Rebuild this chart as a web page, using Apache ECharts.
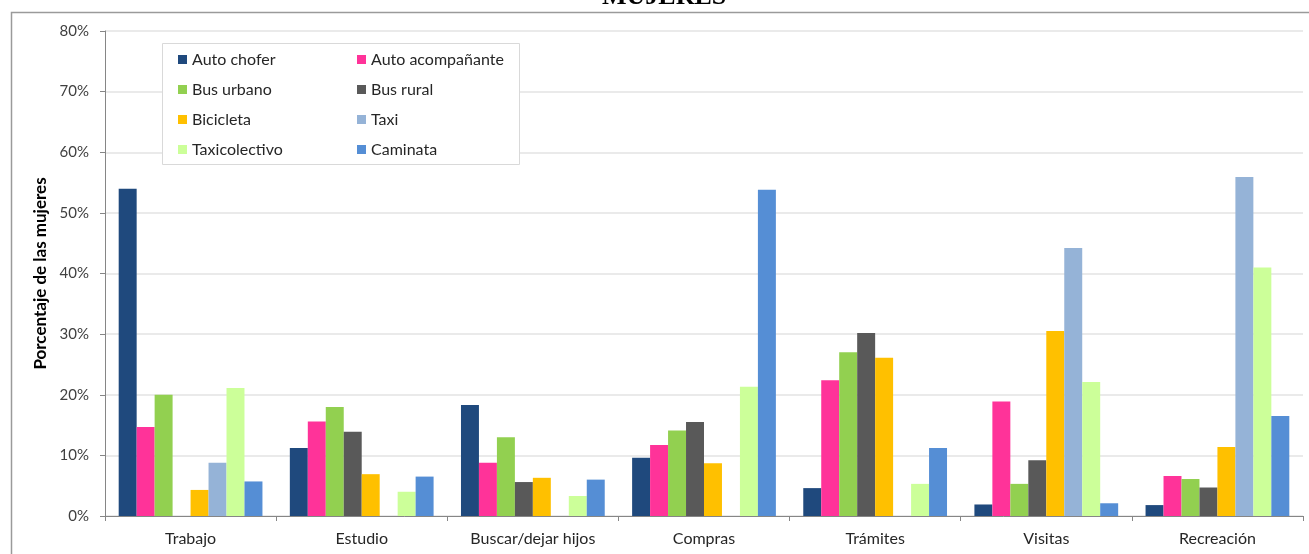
<!DOCTYPE html>
<html>
<head>
<meta charset="utf-8">
<script src="https://cdn.jsdelivr.net/npm/echarts@6/dist/echarts.min.js"></script>
<style>
html,body{margin:0;padding:0;background:#fff;}
#chart{width:1309px;height:554px;}
</style>
</head>
<body>
<div id="chart"></div>
<script>
const categories = ['Trabajo','Estudio','Buscar/dejar hijos','Compras','Trámites','Visitas','Recreación'];
const seriesNames = ['Auto chofer','Auto acompañante','Bus urbano','Bus rural','Bicicleta','Taxi','Taxicolectivo','Caminata'];
const autoChofer     = [54.0, 11.2, 18.3,  9.6,  4.6,  1.9,  1.8];
const autoAcomp      = [14.7, 15.6,  8.8, 11.7, 22.4, 18.9,  6.6];
const busUrbano      = [20.0, 18.0, 13.0, 14.1, 27.0,  5.3,  6.1];
const busRural       = [ 0.0, 13.9,  5.6, 15.5, 30.2,  9.2,  4.7];
const bicicleta      = [ 4.3,  6.9,  6.3,  8.7, 26.1, 30.5, 11.4];
const taxi           = [ 8.8,  0.0,  0.0,  0.0,  0.0, 44.2, 55.9];
const taxicolectivo  = [21.1,  4.0,  3.3, 21.3,  5.3, 22.1, 41.0];
const caminata       = [ 5.7,  6.5,  6.0, 53.8, 11.2,  2.1, 16.5];
const yTicks = [0,10,20,30,40,50,60,70,80];

const seriesData = [autoChofer, autoAcomp, busUrbano, busRural, bicicleta, taxi, taxicolectivo, caminata];
const colors = ['#1F497D','#FF3399','#92D050','#595959','#FFC000','#95B3D7','#CCFF99','#558ED5'];
const FONT = 'Lato, "Open Sans", sans-serif';

const chart = echarts.init(document.getElementById('chart'));
const legendCommon = {
  orient: 'vertical',
  top: 51,
  padding: 0,
  z: 10,
  itemWidth: 9,
  itemHeight: 9,
  itemGap: 13,
  icon: 'rect',
  selectedMode: false,
  textStyle: {fontFamily: FONT, fontSize: 16, color: '#262626', lineHeight: 17}
};
chart.setOption({
  animation: false,
  color: colors,
  textStyle: {fontFamily: FONT},
  grid: {left: 105, right: 6, top: 31, bottom: 38, containLabel: false},
  legend: [
    Object.assign({}, legendCommon, {left: 178, data: [seriesNames[0], seriesNames[2], seriesNames[4], seriesNames[6]]}),
    Object.assign({}, legendCommon, {left: 357, data: [seriesNames[1], seriesNames[3], seriesNames[5], seriesNames[7]]})
  ],
  graphic: [
    {type: 'rect', left: 9, top: 10, z: -10, silent: true,
     shape: {width: 1320, height: 560}, style: {fill: 'none', stroke: '#9A9A9A', lineWidth: 1.5}},
    {type: 'rect', left: 162, top: 43, z: 3, silent: true,
     shape: {width: 357, height: 121}, style: {fill: '#fff', stroke: '#D9D9D9', lineWidth: 1}},
    {type: 'text', left: 602, top: -16, z: 10, silent: true,
     style: {text: 'MUJERES', font: 'bold 26px "Liberation Serif", "DejaVu Serif", serif', fill: '#000'}}
  ],
  xAxis: {
    type: 'category',
    data: categories,
    axisLine: {lineStyle: {color: '#868686', width: 1}},
    axisTick: {show: true, length: 5, lineStyle: {color: '#868686'}},
    axisLabel: {fontFamily: FONT, fontSize: 16, color: '#262626', margin: 15}
  },
  yAxis: {
    type: 'value',
    min: 0, max: 80, interval: 10,
    name: 'Porcentaje de las mujeres',
    nameLocation: 'middle',
    nameGap: 54,
    nameRotate: 90,
    nameTextStyle: {fontFamily: FONT, fontSize: 17, fontWeight: 'bold', color: '#000'},
    axisLine: {show: true, lineStyle: {color: '#868686'}},
    axisTick: {show: true, length: 5, lineStyle: {color: '#868686'}},
    axisLabel: {fontFamily: FONT, fontSize: 15, color: '#404040', margin: 16,
      formatter: v => yTicks.includes(v) ? v + '%' : ''},
    splitLine: {lineStyle: {color: '#E3E3E3', width: 1.5}}
  },
  series: seriesNames.map((n, i) => ({
    name: n,
    type: 'bar',
    data: seriesData[i],
    barGap: '0%',
    barCategoryGap: '16%',
    z: 2,
    itemStyle: {color: colors[i]}
  }))
});
</script>
</body>
</html>
